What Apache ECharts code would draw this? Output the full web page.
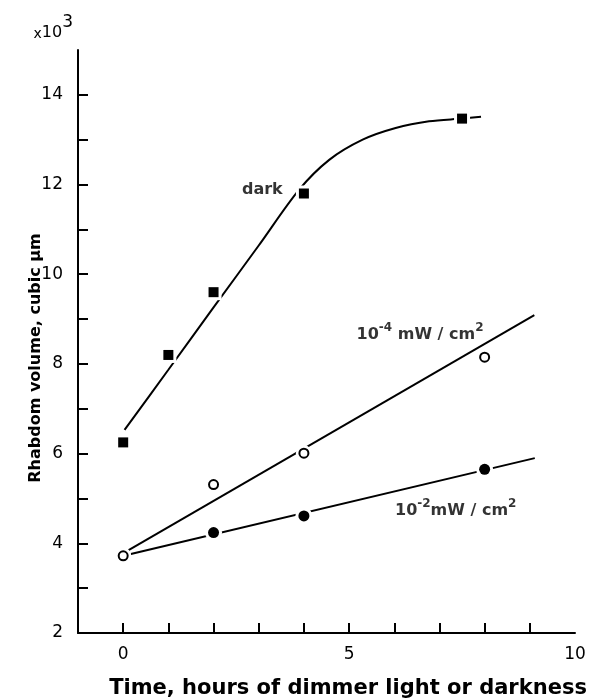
<!DOCTYPE html>
<html><head><meta charset="utf-8">
<script src="https://cdn.jsdelivr.net/npm/echarts@6/dist/echarts.min.js"></script>
<style>html,body{margin:0;padding:0;background:#fff}#c{width:594px;height:698px}</style>
</head><body><div id="c"></div>
<script>
// ---- data ----
const xTickValues = [0, 1, 2, 3, 4, 5, 6, 7, 8, 9];
const xLabelValues = [0, 5, 10];
const yTickValues = [2, 3, 4, 5, 6, 7, 8, 9, 10, 11, 12, 13, 14];
const yLabelValues = [2, 4, 6, 8, 10, 12, 14];

const darkPoints = [[0, 6.25], [1, 8.2], [2, 9.6], [4, 11.8], [7.5, 13.47]];
const dim4Points = [[0, 3.72], [2, 5.31], [4, 6.01], [8, 8.15]];
const dim2Points = [[2, 4.24], [4, 4.61], [8, 5.65]];

const darkCurve = [[0.03, 6.53], [1, 7.87], [2, 9.26], [3, 10.64], [3.89, 11.88], [4.56, 12.55], [5.3, 13.0], [6.03, 13.26], [6.77, 13.41], [7.5, 13.47], [7.92, 13.51]];
const dim4Curve = [[0.12, 3.85], [9.1, 9.09]];
const dim2Curve = [[0.17, 3.76], [9.11, 5.9]];

const annotationText = ['{m|dark}', '{m|10}{s|-4}{m| mW / cm}{s|2}', '{m|10}{s|-2}{m|mW / cm}{s|2}'];
const annotationPos = [[3.08, 11.93], [6.57, 8.71], [7.36, 4.79]];

const xTitle = 'Time, hours of dimmer light or darkness';
const yTitle = 'Rhabdom volume, cubic μm';
const yScaleNote = '{a|x}{b|10}{c|3}';

// ---- chart ----
const FONT = 'DejaVu Sans';
const chart = echarts.init(document.getElementById('c'), null, {renderer: 'canvas'});
const richStyle = {
  m: {fontFamily: FONT, fontWeight: 'bold', fontSize: 16, lineHeight: 21, verticalAlign: 'bottom', color: '#000'},
  s: {fontFamily: FONT, fontWeight: 'bold', fontSize: 12, lineHeight: 13, verticalAlign: 'top', color: '#000'}
};
function lineSeries(data, smooth) {
  return {type: 'line', data: data, smooth: smooth, showSymbol: false, symbol: 'none', silent: true,
    lineStyle: {color: '#000', width: 2}, z: 2};
}
function halo(data, symbol, size) {
  return {type: 'scatter', data: data, symbol: symbol, symbolSize: size + 6, silent: true,
    itemStyle: {color: '#fff', opacity: 1}, z: 3};
}
chart.setOption({
  animation: false,
  backgroundColor: '#fff',
  grid: {left: 78, right: 19, top: 50, bottom: 65, containLabel: false},
  xAxis: {
    type: 'value', min: -1, max: 10, interval: 1,
    axisLine: {show: true, onZero: false, lineStyle: {color: '#000', width: 2}},
    axisTick: {show: true, inside: true, length: 10, customValues: xTickValues, lineStyle: {color: '#000', width: 2}},
    axisLabel: {customValues: xLabelValues, margin: 13, fontFamily: FONT, fontSize: 17, color: '#000'},
    splitLine: {show: false}
  },
  yAxis: {
    type: 'value', min: 2, max: 15, interval: 1,
    name: yScaleNote, nameLocation: 'end', nameGap: 9,
    nameTextStyle: {align: 'right', verticalAlign: 'bottom', padding: [0, 5, 0, 0], color: '#000', rich: {
      a: {fontFamily: FONT, fontSize: 14, lineHeight: 17, verticalAlign: 'bottom', color: '#000'},
      b: {fontFamily: FONT, fontSize: 16, lineHeight: 17, verticalAlign: 'bottom', color: '#000'},
      c: {fontFamily: FONT, fontSize: 17, lineHeight: 17, verticalAlign: 'bottom', padding: [0, 0, 10, 0], color: '#000'}
    }},
    axisLine: {show: true, onZero: false, lineStyle: {color: '#000', width: 2}},
    axisTick: {show: true, inside: true, length: 10, customValues: yTickValues, lineStyle: {color: '#000', width: 2}},
    axisLabel: {customValues: yLabelValues, margin: 15, fontFamily: FONT, fontSize: 17, color: '#000'},
    splitLine: {show: false}
  },
  graphic: [
    {type: 'text', x: 348, y: 689, silent: true,
      style: {text: xTitle, align: 'center', verticalAlign: 'middle', font: 'bold 21px "DejaVu Sans"', fill: '#000'}},
    {type: 'text', x: 36, y: 358, rotation: Math.PI / 2, silent: true,
      style: {text: yTitle, align: 'center', verticalAlign: 'middle', font: 'bold 16px "DejaVu Sans"', fill: '#000'}}
  ],
  series: [
    lineSeries(darkCurve, 0.3),
    lineSeries(dim4Curve, false),
    lineSeries(dim2Curve, false),
    halo(darkPoints, 'rect', 10),
    halo(dim4Points, 'circle', 10),
    halo(dim2Points, 'circle', 11),
    {type: 'scatter', data: darkPoints, symbol: 'rect', symbolSize: 10, silent: true, itemStyle: {color: '#000', opacity: 1}, z: 4},
    {type: 'scatter', data: dim4Points, symbol: 'circle', symbolSize: 9, silent: true,
      itemStyle: {color: '#fff', borderColor: '#000', borderWidth: 2, opacity: 1}, z: 4},
    {type: 'scatter', data: dim2Points, symbol: 'circle', symbolSize: 11, silent: true, itemStyle: {color: '#000', opacity: 1}, z: 4},
    {type: 'scatter', symbolSize: 0, silent: true, z: 5,
      data: annotationPos.map((p, i) => ({value: p, label: {formatter: annotationText[i]}})),
      label: {show: true, position: 'inside', align: 'center', verticalAlign: 'middle', color: '#000', rich: richStyle}}
  ]
});
</script></body></html>
